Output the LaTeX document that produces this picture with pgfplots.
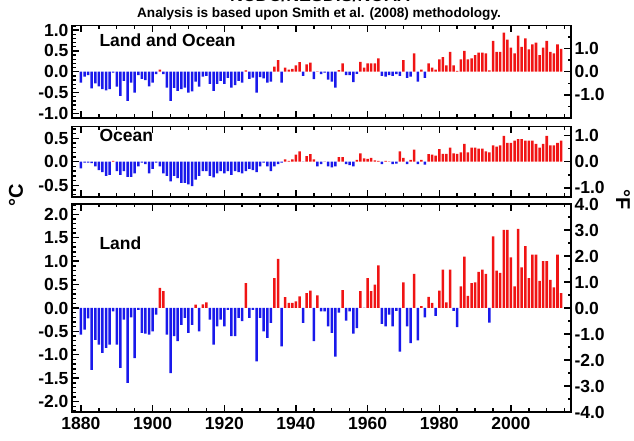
\documentclass[border=0pt]{standalone}
\usepackage{fontspec}
\setmainfont{Liberation Sans}
\usepackage{pgfplots}
\usepackage{pgfplotstable}
\pgfplotsset{compat=1.18}
\definecolor{barred}{RGB}{240,20,20}
\definecolor{barblue}{RGB}{25,25,235}

\pgfplotstableread{
year lo oc la
1880 -0.26 -0.14 -0.57
1881 -0.12 -0.02 -0.46
1882 -0.08 -0.02 -0.22
1883 -0.40 -0.03 -1.32
1884 -0.28 -0.10 -0.68
1885 -0.35 -0.18 -0.78
1886 -0.42 -0.22 -0.96
1887 -0.45 -0.30 -0.85
1888 -0.42 -0.28 -0.78
1889 -0.02 0.02 -0.07
1890 -0.36 -0.20 -0.78
1891 -0.58 -0.28 -1.28
1892 -0.22 -0.20 -0.25
1893 -0.70 -0.32 -1.60
1894 -0.26 -0.32 -0.20
1895 -0.50 -0.25 -1.07
1896 -0.08 -0.10 -0.04
1897 -0.17 -0.02 -0.53
1898 -0.20 -0.05 -0.55
1899 -0.35 -0.25 -0.57
1900 -0.26 -0.15 -0.50
1901 -0.06 -0.02 -0.14
1902 0.05 -0.10 0.43
1903 -0.06 -0.25 0.36
1904 -0.38 -0.30 -0.57
1905 -0.70 -0.42 -1.39
1906 -0.39 -0.30 -0.60
1907 -0.46 -0.35 -0.71
1908 -0.42 -0.45 -0.36
1909 -0.38 -0.45 -0.21
1910 -0.50 -0.48 -0.53
1911 -0.47 -0.52 -0.36
1912 -0.24 -0.38 0.07
1913 -0.36 -0.30 -0.50
1914 -0.12 -0.20 0.08
1915 -0.10 -0.20 0.12
1916 -0.29 -0.30 -0.25
1917 -0.46 -0.33 -0.78
1918 -0.29 -0.25 -0.39
1919 -0.22 -0.20 -0.25
1920 -0.29 -0.25 -0.39
1921 -0.15 -0.20 -0.04
1922 -0.38 -0.28 -0.60
1923 -0.32 -0.20 -0.60
1924 -0.22 -0.22 -0.21
1925 -0.26 -0.25 -0.28
1926 0.03 -0.20 0.53
1927 -0.17 -0.15 -0.21
1928 -0.14 -0.18 -0.04
1929 -0.50 -0.22 -1.14
1930 -0.13 -0.10 -0.21
1931 -0.16 -0.02 -0.50
1932 -0.26 -0.10 -0.64
1933 -0.24 -0.20 -0.32
1934 0.12 -0.10 0.64
1935 0.28 -0.05 1.05
1936 -0.26 -0.02 -0.82
1937 0.10 0.05 0.23
1938 0.05 0.02 0.11
1939 0.07 0.05 0.11
1940 0.15 0.15 0.14
1941 0.23 0.22 0.25
1942 -0.10 0.00 -0.32
1943 0.18 0.12 0.32
1944 0.22 0.16 0.37
1945 -0.18 0.05 -0.71
1946 0.01 -0.10 0.27
1947 -0.06 -0.05 -0.07
1948 -0.02 0.00 -0.07
1949 -0.19 -0.10 -0.39
1950 -0.24 -0.12 -0.53
1951 -0.38 -0.10 -1.04
1952 0.04 0.10 -0.10
1953 0.20 0.10 0.38
1954 -0.08 -0.05 -0.27
1955 -0.08 -0.07 -0.07
1956 -0.25 -0.10 -0.55
1957 -0.05 0.04 -0.43
1958 0.24 0.18 0.36
1959 0.10 0.07 0.00
1960 0.20 0.06 0.64
1961 0.20 0.08 0.36
1962 0.20 0.03 0.50
1963 0.32 0.02 0.91
1964 -0.10 -0.05 -0.34
1965 -0.12 0.02 -0.39
1966 -0.08 0.01 -0.14
1967 -0.10 -0.05 -0.39
1968 -0.06 -0.04 -0.06
1969 -0.10 0.22 -0.93
1970 0.28 0.08 0.55
1971 -0.15 -0.05 -0.39
1972 -0.12 0.04 -0.75
1973 0.44 0.26 0.73
1974 -0.24 -0.05 -0.69
1975 0.05 0.04 0.04
1976 -0.15 -0.06 -0.20
1977 0.20 0.16 0.24
1978 0.10 0.15 0.11
1979 0.05 0.13 -0.17
1980 0.30 0.27 0.37
1981 0.35 0.17 0.82
1982 0.15 0.17 0.12
1983 0.48 0.30 0.82
1984 0.15 0.18 -0.06
1985 0.02 0.17 -0.41
1986 0.30 0.20 0.46
1987 0.50 0.38 1.10
1988 0.30 0.20 0.26
1989 0.32 0.30 0.53
1990 0.40 0.30 0.55
1991 0.46 0.28 0.77
1992 0.46 0.28 0.82
1993 0.44 0.22 0.73
1994 0.03 0.20 -0.31
1995 0.74 0.35 1.53
1996 0.48 0.32 0.80
1997 0.48 0.35 0.75
1998 0.94 0.55 1.67
1999 0.77 0.40 1.67
2000 0.58 0.40 1.08
2001 0.44 0.45 0.46
2002 0.87 0.48 1.69
2003 0.60 0.48 0.87
2004 0.80 0.45 1.32
2005 0.54 0.45 0.64
2006 0.66 0.45 1.14
2007 0.70 0.38 1.14
2008 0.40 0.30 0.58
2009 0.58 0.38 1.00
2010 0.74 0.55 1.00
2011 0.48 0.35 0.60
2012 0.44 0.35 0.44
2013 0.66 0.40 1.14
2014 0.55 0.45 0.32
}\datatab

\pgfplotsset{
  panel/.style={
    scale only axis, width=499pt,
    xmin=1877.5, xmax=2016.77,
    axis line style={line width=1.8pt},
    tick align=inside,
    major tick length=7pt, minor tick length=3.5pt,
    every tick/.append style={line width=1.4pt, black},
    tick label style={font=\fontsize{17.5}{17.5}\selectfont\bfseries},
    anchor=south west,
  },
  cpanel/.style={panel,
    xtick={1880,1900,...,2000},
    minor xtick={1885,1890,...,2015},
    xtick pos=both, ytick pos=left,
    xticklabel style={yshift=-2pt},
  },
  fpanel/.style={panel,
    xtick=\empty, minor xtick={},
    ytick pos=right,
    yticklabel style={anchor=west},
  },
  posbar/.style={ybar, bar width=0.7, bar shift=0pt, draw=none, fill=barred, restrict y to domain=0:10},
  negbar/.style={ybar, bar width=0.7, bar shift=0pt, draw=none, fill=barblue, restrict y to domain=-10:0},
}

\newcommand{\lbl}{\fontsize{17.5}{17.5}\selectfont\bfseries}

\begin{document}
\begin{tikzpicture}[x=1pt,y=1pt]
% ---------- Land and Ocean ----------
\begin{axis}[cpanel, at={(72pt,323pt)}, height=92.5pt,
  ymin=-1.1111, ymax=1.1111,
  ytick={-1,-0.5,0,0.5,1}, yticklabels={-1.0,-0.5,0.0,0.5,1.0},
  minor ytick={-1.1,-1.0,...,1.1},
  xticklabels={}]
\addplot[posbar] table[x=year,y=lo]{\datatab};
\addplot[negbar] table[x=year,y=lo]{\datatab};
\end{axis}
\begin{axis}[fpanel, at={(72pt,323pt)}, height=92.5pt,
  ymin=-2, ymax=2,
  ytick={-1,0,1}, yticklabels={-1.0,0.0,1.0},
  minor ytick={-1.5,-0.5,0.5,1.5}]
\end{axis}
% ---------- Ocean ----------
\begin{axis}[cpanel, at={(72pt,244pt)}, height=70.5pt,
  ymin=-0.75, ymax=0.75,
  ytick={-0.5,0,0.5}, yticklabels={-0.5,0.0,0.5},
  minor ytick={-0.7,-0.6,...,0.7},
  xticklabels={}]
\addplot[posbar] table[x=year,y=oc]{\datatab};
\addplot[negbar] table[x=year,y=oc]{\datatab};
\end{axis}
\begin{axis}[fpanel, at={(72pt,244pt)}, height=70.5pt,
  ymin=-1.35, ymax=1.35,
  ytick={-1,0,1}, yticklabels={-1.0,0.0,1.0},
  minor ytick={-0.5,0.5}]
\end{axis}
% ---------- Land ----------
\begin{axis}[cpanel, at={(72pt,29pt)}, height=208pt,
  ymin=-2.2222, ymax=2.2222,
  ytick={-2,-1.5,...,2}, yticklabels={-2.0,-1.5,-1.0,-0.5,0.0,0.5,1.0,1.5,2.0},
  minor ytick={-2.2,-2.1,...,2.2},
  xticklabels={1880,1900,1920,1940,1960,1980,2000}]
\addplot[posbar] table[x=year,y=la]{\datatab};
\addplot[negbar] table[x=year,y=la]{\datatab};
\end{axis}
\begin{axis}[fpanel, at={(72pt,29pt)}, height=208pt,
  ymin=-4, ymax=4,
  ytick={-4,-3,...,4}, yticklabels={-4.0,-3.0,-2.0,-1.0,0.0,1.0,2.0,3.0,4.0},
  minor ytick={-3.5,-2.5,-1.5,-0.5,0.5,1.5,2.5,3.5}]
\end{axis}
% ---------- texts ----------
\node[anchor=base west, font=\lbl] at (96pt,394pt) {Land and Ocean};
\node[anchor=base west, font=\lbl] at (96pt,299pt) {Ocean};
\node[anchor=base west, font=\lbl] at (96pt,191pt) {Land};
\node[anchor=base, font=\fontsize{13.6}{13.6}\selectfont\bfseries] at (319pt,423pt) {Analysis is based upon Smith et al. (2008) methodology.};
\node[anchor=base, font=\fontsize{17.8}{17.8}\selectfont\bfseries] at (320pt,439pt) {NCDC/NESDIS/NOAA};
\node[rotate=90, font=\fontsize{20}{20}\selectfont\bfseries] at (16pt,246pt) {°C};
\node[rotate=-90, font=\fontsize{20}{20}\selectfont\bfseries] at (623pt,241pt) {°F};
\pgfresetboundingbox
\useasboundingbox (0pt,0pt) rectangle (634pt,441pt);
\end{tikzpicture}
\end{document}
